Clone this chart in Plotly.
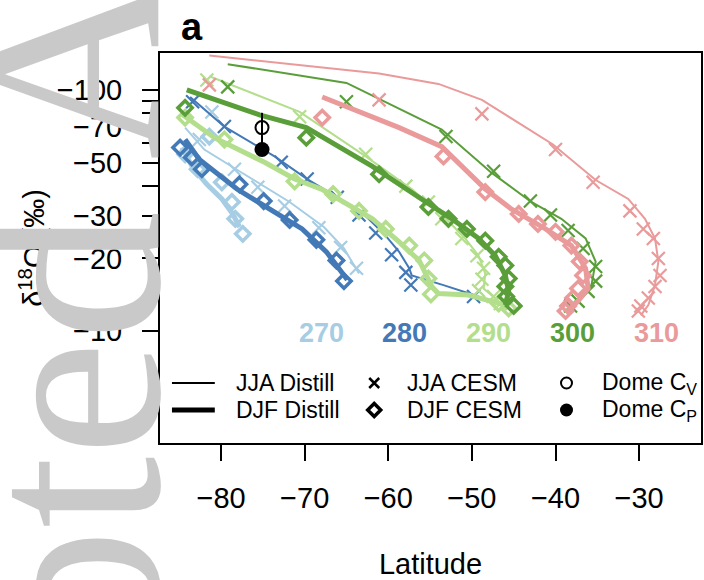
import plotly.graph_objects as go

# ---------------- data (latitude in degrees, d18O in permil) ----------------
temps = ["270", "280", "290", "300", "310"]

lat_270_jja_distill = [-84.3, -82.0, -77.8, -71.8, -67.7, -65.3, -63.5]
d18o_270_jja_distill = [-69.8, -56.6, -46.0, -34.3, -27.0, -22.0, -17.3]
lat_270_jja_cesm = [-81.1, -82.6, -78.4, -75.6, -72.4, -68.3, -65.7, -63.8]
d18o_270_jja_cesm = [-81.1, -62.3, -46.9, -39.5, -33.0, -26.8, -22.2, -18.2]
lat_270_djf_distill = [-84.7, -83.4, -81.7, -79.9, -78.6, -77.8]
d18o_270_djf_distill = [-57.7, -47.8, -40.6, -35.3, -30.6, -27.0]
lat_270_djf_cesm = [-84.3, -81.4, -82.8, -79.9, -78.7, -78.3, -77.4]
d18o_270_djf_cesm = [-54.1, -64.1, -46.9, -41.4, -34.3, -29.2, -25.3]

lat_280_jja_distill = [-83.7, -79.6, -73.6, -69.7, -66.1, -62.7, -60.3, -58.7, -57.5, -57.2, -53.4, -49.2]
d18o_280_jja_distill = [-93.5, -70.5, -53.0, -42.7, -35.9, -30.0, -24.8, -21.3, -18.2, -17.0, -15.5, -13.9]
lat_280_jja_cesm = [-83.4, -79.6, -72.8, -69.7, -66.1, -63.5, -61.5, -59.6, -57.9, -57.3, -49.8]
d18o_280_jja_cesm = [-89.3, -70.5, -50.1, -42.7, -35.9, -30.3, -25.5, -20.7, -17.5, -15.5, -13.9]
lat_280_djf_distill = [-84.3, -82.6, -78.1, -74.2, -70.3, -67.4, -65.9, -64.9]
d18o_280_djf_distill = [-62.3, -51.5, -38.8, -32.1, -26.5, -21.3, -18.2, -16.3]
lat_280_djf_cesm = [-84.9, -83.5, -82.3, -77.8, -74.9, -71.8, -68.6, -66.2, -65.3]
d18o_280_djf_cesm = [-57.7, -52.5, -46.9, -40.6, -34.6, -28.9, -23.9, -19.6, -16.1]

lat_290_jja_distill = [-81.4, -70.6, -62.7, -57.2, -53.1, -50.8, -49.2, -48.4, -48.6, -46.8]
d18o_290_jja_distill = [-114, -81.1, -53.0, -38.8, -29.2, -24.2, -20.5, -17.3, -15.0, -13.3]
lat_290_jja_cesm = [-81.7, -70.6, -62.7, -57.9, -55.2, -53.6, -51.2, -49.4, -48.6, -48.8, -49.2, -47.4, -46.6]
d18o_290_jja_cesm = [-110, -77.5, -54.1, -39.9, -34.3, -29.2, -24.2, -20.5, -18.2, -16.4, -14.7, -13.9, -13.0]
lat_290_djf_distill = [-84.6, -80.8, -74.8, -71.2, -68.0, -64.4, -61.9, -58.7, -56.3, -54.8, -54.0, -50.4, -46.0]
d18o_290_djf_distill = [-78.9, -63.4, -50.1, -42.7, -38.8, -33.0, -29.2, -23.4, -19.6, -15.3, -14.3, -14.1, -12.8]
lat_290_djf_cesm = [-84.3, -79.6, -71.2, -66.6, -63.5, -60.3, -57.5, -55.7, -55.2, -54.9, -46.8, -45.6]
d18o_290_djf_cesm = [-76.8, -62.3, -41.8, -37.0, -31.5, -26.5, -22.6, -19.6, -16.5, -14.2, -13.0, -12.4]

lat_300_jja_distill = [-79.2, -65.0, -53.6, -47.7, -42.9, -39.3, -36.4, -35.2, -35.7, -37.3, -38.5]
d18o_300_jja_distill = [-128, -107, -68.5, -45.5, -34.3, -29.2, -24.2, -19.4, -15.5, -13.3, -12.1]
lat_300_jja_cesm = [-79.2, -65.0, -53.1, -47.4, -43.0, -40.6, -38.5, -36.7, -35.2, -35.2, -36.1, -37.3, -38.2]
d18o_300_jja_cesm = [-103, -89.3, -64.1, -46.0, -34.6, -30.3, -26.1, -22.0, -18.5, -16.1, -14.6, -13.3, -12.7]
lat_300_djf_distill = [-84.1, -75.4, -69.8, -61.9, -55.5, -52.4, -49.2, -47.2, -46.0, -45.6, -46.0]
d18o_300_djf_distill = [-100, -78.9, -69.8, -48.2, -34.3, -29.2, -24.2, -20.5, -17.0, -14.6, -12.8]
lat_300_djf_cesm = [-84.3, -69.8, -61.1, -55.2, -52.8, -50.6, -48.4, -46.8, -46.0, -45.6, -46.0, -45.9, -45.0]
d18o_300_djf_cesm = [-84.3, -63.4, -44.7, -32.7, -29.2, -26.5, -23.7, -20.3, -18.7, -16.5, -15.3, -13.9, -12.7]

lat_310_jja_distill = [-81.4, -61.1, -54.0, -48.8, -40.3, -35.2, -31.3, -29.3, -28.1, -27.7, -28.1, -28.9, -29.8]
d18o_310_jja_distill = [-139, -117, -106, -91, -59.4, -42.3, -35.3, -29.2, -24.2, -19.4, -15.5, -12.8, -11.6]
lat_310_jja_cesm = [-81.4, -61.1, -48.8, -40.0, -35.5, -31.1, -29.5, -28.3, -27.7, -27.5, -28.1, -28.9, -29.8, -30.1]
d18o_310_jja_cesm = [-105, -91, -79.6, -56.6, -41.4, -31.5, -26.5, -24.2, -20.0, -17.0, -15.3, -13.7, -12.7, -12.1]
lat_310_djf_distill = [-67.9, -58.7, -53.6, -48.4, -45.3, -41.2, -38.1, -36.4, -36.1, -37.3, -38.5]
d18o_310_djf_distill = [-93.5, -69.8, -58.2, -38.8, -32.1, -26.5, -22.6, -18.2, -15.0, -13.3, -12.1]
lat_310_djf_cesm = [-67.9, -53.4, -48.4, -44.4, -42.1, -40.0, -38.1, -37.1, -36.7, -37.3, -37.9, -38.5, -38.8]
d18o_310_djf_cesm = [-76.8, -53.0, -37.7, -30.6, -27.8, -25.8, -22.6, -19.4, -17.0, -15.0, -13.7, -12.7, -12.1]

domec_lat = [-75.1]
domec_cv = [-69.8]
domec_cv_err_top = [-80.4]
domec_cp = [-56.6]

x_tick_vals = [-80, -70, -60, -50, -40, -30]
x_tick_text = ["\u221280", "\u221270", "\u221260", "\u221250", "\u221240", "\u221230"]
y_tick_vals = [-100, -70, -50, -30, -20, -10]
y_tick_text = ["\u2212100", "\u221270", "\u221250", "\u221230", "\u221220", "\u221210"]
y_minor_tick_vals = [-90, -80, -60, -40]

legend_labels = ["JJA Distill", "DJF Distill", "JJA CESM", "DJF CESM",
                 "Dome C<sub>V</sub>", "Dome C<sub>P</sub>"]

series = {
    "270": (lat_270_jja_distill, d18o_270_jja_distill, lat_270_djf_distill, d18o_270_djf_distill,
            lat_270_jja_cesm, d18o_270_jja_cesm, lat_270_djf_cesm, d18o_270_djf_cesm),
    "280": (lat_280_jja_distill, d18o_280_jja_distill, lat_280_djf_distill, d18o_280_djf_distill,
            lat_280_jja_cesm, d18o_280_jja_cesm, lat_280_djf_cesm, d18o_280_djf_cesm),
    "290": (lat_290_jja_distill, d18o_290_jja_distill, lat_290_djf_distill, d18o_290_djf_distill,
            lat_290_jja_cesm, d18o_290_jja_cesm, lat_290_djf_cesm, d18o_290_djf_cesm),
    "300": (lat_300_jja_distill, d18o_300_jja_distill, lat_300_djf_distill, d18o_300_djf_distill,
            lat_300_jja_cesm, d18o_300_jja_cesm, lat_300_djf_cesm, d18o_300_djf_cesm),
    "310": (lat_310_jja_distill, d18o_310_jja_distill, lat_310_djf_distill, d18o_310_djf_distill,
            lat_310_jja_cesm, d18o_310_jja_cesm, lat_310_djf_cesm, d18o_310_djf_cesm),
}

# ---------------- style ----------------
W, H = 704, 580
PL, PR, PT, PB = 160, 703, 53, 443          # plot box in pixels
X_RANGE = [-87.3, -22.6]
Y_RANGE_LOG = [0.535, 2.1535]               # log10 of -d18O
FONT = "Liberation Sans, Arial, sans-serif"

colors = {"270": "#a6cde3", "280": "#4279b6", "290": "#b3de8c", "300": "#5a9e3a", "310": "#ea9a9a"}
label_px = {"270": (322, 333), "280": (405, 333), "290": (490, 333), "300": (574, 333), "310": (658, 333)}


def fx(xp):
    return (xp - PL) / (PR - PL)


def fy(yp):
    return (PB - yp) / (PB - PT)


def neg(vals):
    return [-v for v in vals]


fig = go.Figure()

for t in temps:
    jl, jd, dl, dd, cjl, cjd, cdl, cdd = series[t]
    c = colors[t]
    fig.add_trace(go.Scatter(x=jl, y=neg(jd), mode="lines", line=dict(color=c, width=2),
                             showlegend=False, name=f"{t} JJA Distill"))
    fig.add_trace(go.Scatter(x=dl, y=neg(dd), mode="lines", line=dict(color=c, width=5),
                             showlegend=False, name=f"{t} DJF Distill"))
    fig.add_trace(go.Scatter(x=cjl, y=neg(cjd), mode="markers",
                             marker=dict(symbol="x-thin-open", size=13, color=c, line=dict(color=c, width=2.2)),
                             showlegend=False, name=f"{t} JJA CESM"))
    fig.add_trace(go.Scatter(x=cdl, y=neg(cdd), mode="markers",
                             marker=dict(symbol="diamond-open", size=11, color=c, line=dict(color=c, width=3.5)),
                             showlegend=False, name=f"{t} DJF CESM"))

# Dome C
err_plus = [a - b for a, b in zip(neg(domec_cv_err_top), neg(domec_cv))]
err_minus = [a - b for a, b in zip(neg(domec_cv), neg(domec_cp))]
fig.add_trace(go.Scatter(x=domec_lat, y=neg(domec_cv), mode="markers",
                         marker=dict(symbol="circle-open", size=13, color="black", line=dict(color="black", width=2)),
                         error_y=dict(type="data", array=err_plus, arrayminus=err_minus, width=0,
                                      thickness=2, color="black"),
                         showlegend=False, name="Dome Cv"))
fig.add_trace(go.Scatter(x=domec_lat, y=neg(domec_cp), mode="markers",
                         marker=dict(symbol="circle", size=15, color="black"),
                         showlegend=False, name="Dome Cp"))

# legend keys drawn on a pixel-scaled overlay axis
LEG_ROW = [383, 410]
LEG_COL = [(172, 215), 375, 568]
LEG_TXT = [234, 406, 602]
fig.add_trace(go.Scatter(x=list(LEG_COL[0]), y=[LEG_ROW[0]] * 2, mode="lines", xaxis="x2", yaxis="y2",
                         line=dict(color="black", width=2), showlegend=False, hoverinfo="skip"))
fig.add_trace(go.Scatter(x=list(LEG_COL[0]), y=[LEG_ROW[1]] * 2, mode="lines", xaxis="x2", yaxis="y2",
                         line=dict(color="black", width=5), showlegend=False, hoverinfo="skip"))
fig.add_trace(go.Scatter(x=[LEG_COL[1]], y=[LEG_ROW[0]], mode="markers", xaxis="x2", yaxis="y2",
                         marker=dict(symbol="x-thin-open", size=10, color="black",
                                     line=dict(color="black", width=2.5)),
                         showlegend=False, hoverinfo="skip"))
fig.add_trace(go.Scatter(x=[LEG_COL[1]], y=[LEG_ROW[1]], mode="markers", xaxis="x2", yaxis="y2",
                         marker=dict(symbol="diamond-open", size=10, color="black",
                                     line=dict(color="black", width=3.5)),
                         showlegend=False, hoverinfo="skip"))
fig.add_trace(go.Scatter(x=[LEG_COL[2]], y=[LEG_ROW[0]], mode="markers", xaxis="x2", yaxis="y2",
                         marker=dict(symbol="circle-open", size=11, color="black",
                                     line=dict(color="black", width=2)),
                         showlegend=False, hoverinfo="skip"))
fig.add_trace(go.Scatter(x=[LEG_COL[2]], y=[LEG_ROW[1]], mode="markers", xaxis="x2", yaxis="y2",
                         marker=dict(symbol="circle", size=13, color="black"),
                         showlegend=False, hoverinfo="skip"))

annotations = []
legend_pos = [(LEG_TXT[0], LEG_ROW[0]), (LEG_TXT[0], LEG_ROW[1]), (LEG_TXT[1], LEG_ROW[0]),
              (LEG_TXT[1], LEG_ROW[1]), (LEG_TXT[2], LEG_ROW[0]), (LEG_TXT[2], LEG_ROW[1])]
for txt, (xp, yp) in zip(legend_labels, legend_pos):
    annotations.append(dict(text=txt, x=fx(xp), y=fy(yp), xref="paper", yref="paper", xanchor="left",
                            yanchor="middle", showarrow=False, font=dict(family=FONT, size=23, color="black")))
for t in temps:
    xp, yp = label_px[t]
    annotations.append(dict(text=f"<b>{t}</b>", x=fx(xp), y=fy(yp), xref="paper", yref="paper",
                            xanchor="center", yanchor="middle", showarrow=False,
                            font=dict(family=FONT, size=27, color=colors[t])))
annotations.append(dict(text="<b>a</b>", x=fx(192), y=fy(27), xref="paper", yref="paper", xanchor="center",
                        yanchor="middle", showarrow=False, font=dict(family=FONT, size=38, color="black")))
# journal watermark (partly outside the page, as in the reference)
annotations.append(dict(text="Accepted Article", x=fx(70), y=fy(315), xref="paper", yref="paper",
                        xanchor="center", yanchor="middle", textangle=-90, showarrow=False,
                        font=dict(family="Liberation Serif, Times New Roman, serif", size=260, color="#c9c9c9")))

axis_common = dict(showgrid=False, zeroline=False, showline=True, linecolor="black", linewidth=2, mirror=True,
                   ticks="outside", ticklen=16, tickwidth=2, tickcolor="black",
                   tickfont=dict(family=FONT, size=29, color="black"))

fig.update_layout(
    width=W, height=H,
    margin=dict(l=PL, r=W - PR, t=PT, b=H - PB),
    paper_bgcolor="white", plot_bgcolor="white",
    showlegend=False,
    xaxis=dict(range=X_RANGE, tickvals=x_tick_vals, ticktext=x_tick_text, ticklabelstandoff=12,
               title=dict(text="Latitude", standoff=42, font=dict(family=FONT, size=29, color="black")),
               **axis_common),
    yaxis=dict(type="log", range=Y_RANGE_LOG, tickvals=neg(y_tick_vals), ticktext=y_tick_text,
               ticklabelstandoff=14,
               title=dict(text="\u03b4<sup>18</sup>O (\u2030)", standoff=4,
                          font=dict(family=FONT, size=29, color="black")),
               minor=dict(tickmode="array", tickvals=neg(y_minor_tick_vals), ticks="outside", ticklen=16,
                          tickwidth=2, tickcolor="black", showgrid=False),
               **axis_common),
    xaxis2=dict(overlaying="x", anchor="y2", range=[PL, PR], visible=False),
    yaxis2=dict(overlaying="y", anchor="x2", range=[PB, PT], visible=False),
    annotations=annotations,
)

fig.write_html("out.html")
